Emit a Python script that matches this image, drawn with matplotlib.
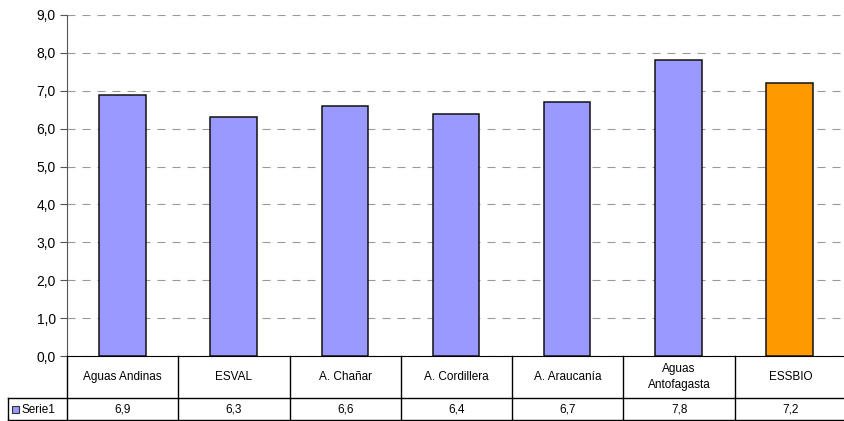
import numpy as np
import matplotlib.pyplot as plt
from matplotlib.patches import Rectangle

plt.rcParams['font.family'] = ['Liberation Sans', 'DejaVu Sans']

# Data
categories = ["Aguas Andinas", "ESVAL", "A. Chañar", "A. Cordillera",
              "A. Araucanía", "Aguas\nAntofagasta", "ESSBIO"]
values = [6.9, 6.3, 6.6, 6.4, 6.7, 7.8, 7.2]
value_labels = ["6,9", "6,3", "6,6", "6,4", "6,7", "7,8", "7,2"]
series_name = "Serie1"
yticks = np.arange(0, 10, 1)
ytick_labels = [("%.1f" % t).replace(".", ",") for t in yticks]

W, H = 845, 421
fig = plt.figure(figsize=(W / 100, H / 100), dpi=100)
left, right, top, bottom = 67, 845, 15, 356
ax = fig.add_axes([left / W, 1 - bottom / H, (right - left) / W, (bottom - top) / H])

x = np.arange(len(categories))
colors = ["#9999FF"] * (len(categories) - 1) + ["#FF9900"]
ax.bar(x, values, width=0.42, color=colors, edgecolor="#111111", linewidth=1.1, zorder=3)

ax.set_xlim(-0.5, len(categories) - 0.5)
ax.set_ylim(0, 9)
ax.set_yticks(yticks)
ax.set_yticklabels(ytick_labels, fontsize=10)
ax.set_xticks([])
ax.yaxis.grid(True, linestyle=(0, (7.2, 6.3)), color="#9a9a9a", linewidth=0.8, zorder=0)
for s in ["top", "right"]:
    ax.spines[s].set_visible(False)
ax.spines["left"].set_color("#555555")
ax.spines["bottom"].set_color("black")
ax.tick_params(axis="y", length=5, color="#555555", pad=3)

# Data table below the axes
row1_bot, row2_bot = 398, 420
tr = fig.transFigure
def fx(px):
    return px / W
def fy(py):
    return 1 - py / H

cw = (right + 1 - left) / len(categories)
lc = "black"
fig.add_artist(plt.Line2D([fx(8), fx(right)], [fy(row1_bot)] * 2, color=lc, lw=1))
fig.add_artist(plt.Line2D([fx(8), fx(right)], [fy(row2_bot)] * 2, color=lc, lw=1))
fig.add_artist(plt.Line2D([fx(8), fx(8)], [fy(row1_bot), fy(row2_bot)], color=lc, lw=1))
for k in range(len(categories) + 1):
    px = left + k * cw
    fig.add_artist(plt.Line2D([fx(px), fx(px)], [fy(bottom), fy(row2_bot)], color=lc, lw=1))

for k, (c, v) in enumerate(zip(categories, value_labels)):
    cx = left + (k + 0.5) * cw
    fig.text(fx(cx), fy((bottom + row1_bot) / 2), c, ha="center", va="center",
             fontsize=8.5, linespacing=1.55)
    fig.text(fx(cx), fy((row1_bot + row2_bot) / 2 + 1), v, ha="center", va="center",
             fontsize=8.5)

# legend key in the series row
fig.add_artist(Rectangle((fx(12), fy(413)), 7 / W, 7 / H, transform=tr,
                         facecolor="#9999FF", edgecolor="#333333", lw=0.8))
fig.text(fx(22), fy((row1_bot + row2_bot) / 2 + 1), series_name, ha="left",
         va="center", fontsize=8.5)

plt.savefig("out.png", dpi=100)
